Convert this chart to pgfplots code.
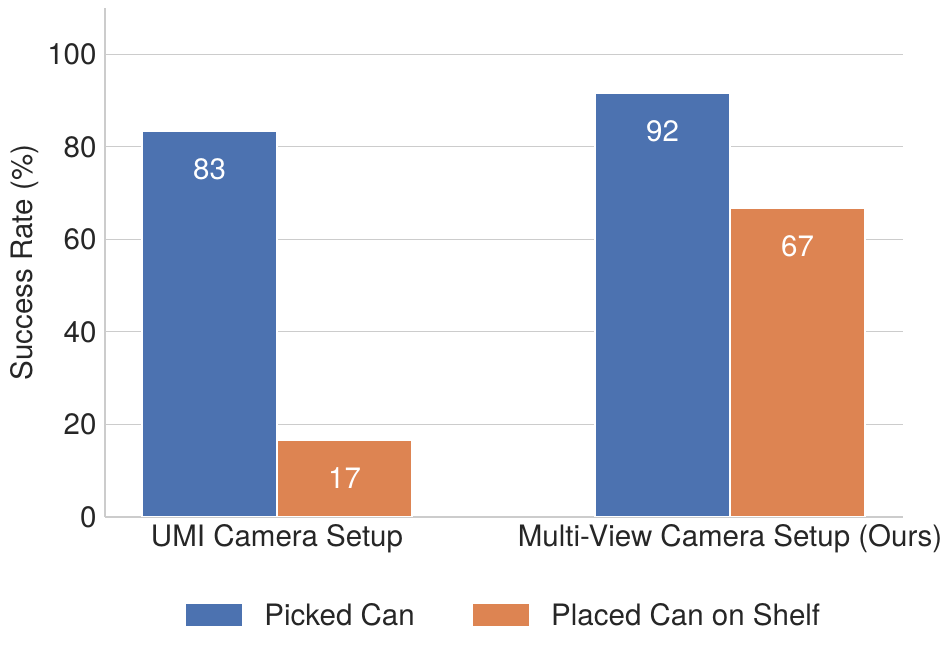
\documentclass[border=0pt]{standalone}
\usepackage{pgfplots}
\pgfplotsset{compat=1.18}
\usepackage{fontspec}
\setmainfont{TeX Gyre Heros}
\definecolor{sbblue}{HTML}{4C72B0}
\definecolor{sborange}{HTML}{DD8452}
\definecolor{txt}{HTML}{262626}
\definecolor{grd}{HTML}{CCCCCC}
\begin{document}
\begin{tikzpicture}
\useasboundingbox (-105pt,-135pt) rectangle (846pt,517pt);
\begin{axis}[
  at={(0pt,0pt)}, anchor=south west,
  scale only axis, width=798pt, height=509pt,
  font=\fontsize{29.5}{34}\selectfont\color{txt},
  /pgf/number format/assume math mode=true,
  ybar=0pt, bar width=135pt,
  xmin=-0.3797, xmax=1.3819,
  ymin=0, ymax=110,
  xtick={0,1},
  xticklabels={UMI Camera Setup, Multi-View Camera Setup (Ours)},
  ytick={0,20,40,60,80,100},
  major tick length=0pt,
  ymajorgrids, grid style={grd, line width=1pt},
  axis x line*=bottom, axis y line*=left,
  axis line style={grd, line width=1.5pt, -},
  x axis line style={-}, y axis line style={-},
  yticklabel style={xshift=-5pt},
  xticklabel style={yshift=-4pt},
  ylabel={Success Rate (\%)},
  ylabel style={at={(axis description cs:-0.101,0.5)}, anchor=center},
  nodes near coords={\pgfmathprintnumber[fixed,precision=0]{\pgfplotspointmeta}},
  nodes near coords style={anchor=center, yshift=-38pt, text=white, font=\fontsize{29.5}{34}\selectfont},
  legend columns=2,
  legend style={at={(0.5,-0.193)}, anchor=center, draw=none, fill=none,
    font=\fontsize{29.5}{34}\selectfont\color{txt},
    /tikz/every odd column/.append style={column sep=20pt},
    /tikz/every even column/.append style={column sep=56pt}},
  legend cell align=left,
]
\addplot[fill=sbblue, draw=white, line width=1.5pt,
  legend image code/.code={\fill[sbblue] (0pt,-10pt) rectangle (55pt,10pt);}]
  coordinates {(0,83.33) (1,91.67)};
\addlegendentry{Picked Can}
\addplot[fill=sborange, draw=white, line width=1.5pt,
  legend image code/.code={\fill[sborange] (0pt,-10pt) rectangle (55pt,10pt);}]
  coordinates {(0,16.67) (1,66.67)};
\addlegendentry{Placed Can on Shelf}
\end{axis}
\end{tikzpicture}
\end{document}
